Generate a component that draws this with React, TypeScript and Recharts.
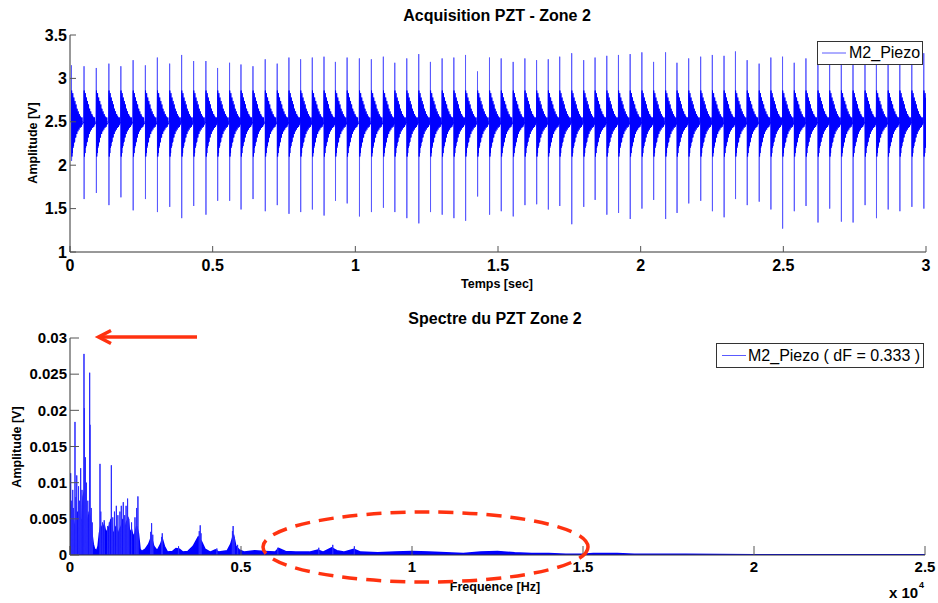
import React from 'react';
import { ComposedChart, Line, Area, XAxis, YAxis } from 'recharts';

// ---------- Top plot: acquisition (time signal) ----------
const spikeTimes = [
  0.005, 0.049, 0.092, 0.136, 0.178, 0.221, 0.264, 0.306, 0.349, 0.391, 0.433, 0.476, 0.517, 0.559, 0.599, 0.641, 0.684,
  0.726, 0.767, 0.808, 0.849, 0.890, 0.930, 0.971, 1.014, 1.056, 1.098, 1.138, 1.180, 1.222, 1.263, 1.304, 1.345, 1.386,
  1.428, 1.470, 1.511, 1.553, 1.594, 1.635, 1.676, 1.716, 1.758, 1.800, 1.840, 1.881, 1.922, 1.963, 2.004, 2.045, 2.087,
  2.127, 2.168, 2.210, 2.251, 2.292, 2.332, 2.373, 2.415, 2.456, 2.497, 2.538, 2.579, 2.621, 2.662, 2.703, 2.744, 2.786,
  2.826, 2.867, 2.908, 2.950, 2.992,
];
const spikeHighs = [
  3.15, 3.14, 3.12, 3.17, 3.14, 3.21, 3.15, 3.24, 3.17, 3.27, 3.20, 3.20, 3.12, 3.18, 3.16, 3.14, 3.22,
  3.17, 3.24, 3.22, 3.24, 3.25, 3.19, 3.24, 3.23, 3.22, 3.25, 3.18, 3.23, 3.28, 3.19, 3.23, 3.24, 3.27,
  3.08, 3.24, 3.23, 3.19, 3.23, 3.21, 3.22, 3.25, 3.29, 3.21, 3.24, 3.26, 3.27, 3.28, 3.30, 3.19, 3.30,
  3.18, 3.23, 3.25, 3.27, 3.26, 3.31, 3.21, 3.17, 3.24, 3.25, 3.18, 3.23, 3.25, 3.27, 3.21, 3.25, 3.22,
  3.19, 3.24, 3.29, 3.23, 3.29,
];
const spikeLows = [
  2.05, 1.61, 1.68, 1.54, 1.63, 1.48, 1.61, 1.46, 1.52, 1.39, 1.53, 1.43, 1.59, 1.59, 1.49, 1.61, 1.47,
  1.54, 1.44, 1.46, 1.49, 1.42, 1.59, 1.56, 1.41, 1.46, 1.51, 1.46, 1.39, 1.33, 1.46, 1.43, 1.39, 1.36,
  1.64, 1.43, 1.47, 1.41, 1.54, 1.55, 1.49, 1.53, 1.32, 1.52, 1.60, 1.43, 1.45, 1.38, 1.50, 1.60, 1.38,
  1.45, 1.56, 1.59, 1.47, 1.40, 1.61, 1.54, 1.58, 1.49, 1.27, 1.47, 1.53, 1.34, 1.50, 1.35, 1.34, 1.54,
  1.39, 1.49, 1.47, 1.52, 1.50,
];
const burstTemplate = [
  0.36, -0.40, 0.30, -0.36, 0.33, -0.30, 0.27, -0.28, 0.28, -0.24, 0.22, -0.23, 0.24, -0.18, 0.19, -0.18, 0.20, -0.14,
  0.15, -0.14, 0.15, -0.10, 0.11, -0.11, 0.12, -0.08, 0.08, -0.09, 0.09, -0.06, 0.07, -0.07, 0.06, -0.05, 0.05, -0.06,
  0.04, -0.04, 0.05, -0.03,
];
const burstStep = 0.00095;
const restLevel = 2.5;
const timeTicks = [0, 0.5, 1, 1.5, 2, 2.5, 3];
const voltTicks = [1, 1.5, 2, 2.5, 3, 3.5];

// ---------- Bottom plot: spectrum ----------
const envFreq = [
  0, 30, 60, 100, 130, 170, 220, 260, 300, 350, 380, 430, 470, 520, 560, 600, 640, 680, 720, 780, 820, 860, 900, 950,
  1000, 1050, 1100, 1150, 1200, 1250, 1300, 1350, 1400, 1450, 1500, 1550, 1600, 1650, 1700, 1750, 1800, 1850, 1900,
  1950, 2000, 2050, 2100, 2200, 2300, 2380, 2450, 2550, 2650, 2700, 2760, 2850, 3000, 3100, 3200, 3300, 3450, 3600,
  3750, 3850, 3950, 4100, 4250, 4350, 4600, 4700, 4780, 4850, 4950, 5100, 5400, 5700, 6000, 6100, 6300, 6600, 7000,
  7250, 7400, 7650, 7800, 8000, 8300, 8500, 9000, 9500, 10000, 10500, 11000, 11500, 12000, 12500, 13000, 13500, 14000,
  14500, 15000, 15300, 15600, 16000, 16500, 18000, 20000, 25000,
];
const envAmp = [
  0.002, 0.007, 0.0045, 0.005, 0.004, 0.0035, 0.006, 0.004, 0.005, 0.0045, 0.008, 0.009, 0.006, 0.004, 0.006, 0.005,
  0.003, 0.0015, 0.0008, 0.0006, 0.0012, 0.003, 0.004, 0.0035, 0.0042, 0.003, 0.0035, 0.004, 0.005, 0.003, 0.0032,
  0.004, 0.0028, 0.0035, 0.004, 0.005, 0.0035, 0.0045, 0.005, 0.003, 0.0035, 0.0025, 0.003, 0.004, 0.003, 0.0008,
  0.0005, 0.0008, 0.0015, 0.0025, 0.0012, 0.0006, 0.0015, 0.0022, 0.0012, 0.0004, 0.0005, 0.0009, 0.0008, 0.0004,
  0.0005, 0.0012, 0.0025, 0.0018, 0.0008, 0.0004, 0.0007, 0.0004, 0.0006, 0.0015, 0.0028, 0.0012, 0.0007, 0.0004,
  0.0006, 0.0005, 0.0004, 0.0009, 0.0005, 0.0004, 0.0004, 0.0007, 0.0004, 0.001, 0.0006, 0.0004, 0.0008, 0.0004,
  0.0003, 0.0004, 0.0005, 0.0004, 0.0003, 0.0002, 0.0004, 0.0005, 0.0003, 0.0002, 0.0002, 0.0001, 0.0001, 0.0002,
  0.0002, 0.0002, 0.0001, 0.0001, 0.00005, 0.00005,
];
const peakFreq = [
  20, 50, 80, 100, 146, 170, 197, 250, 280, 312, 350, 409, 420, 450, 480, 520, 575, 585, 620, 650, 877, 900, 950, 1000,
  1100, 1150, 1209, 1250, 1300, 1355, 1400, 1460, 1500, 1558, 1600, 1640, 1684, 1720, 1800, 1900, 1950, 1986, 2360,
  2386, 2420, 2680, 2698, 3174, 3780, 3808, 3830, 4294, 4750, 4770, 4800, 4900, 6076, 7274, 7683, 8315,
];
const peakAmp = [
  0.0113, 0.0075, 0.009, 0.0065, 0.0184, 0.008, 0.011, 0.0095, 0.0075, 0.012, 0.009, 0.0278, 0.0203, 0.0135, 0.01,
  0.0075, 0.0252, 0.018, 0.0065, 0.0045, 0.0126, 0.006, 0.0045, 0.0048, 0.004, 0.0045, 0.0124, 0.0052, 0.006, 0.0068,
  0.0055, 0.006, 0.0068, 0.0073, 0.0055, 0.0068, 0.0078, 0.005, 0.0045, 0.0052, 0.0065, 0.0081, 0.0032, 0.0044,
  0.0028, 0.0025, 0.003, 0.0012, 0.0033, 0.0041, 0.003, 0.0009, 0.0033, 0.004, 0.0025, 0.0014, 0.001, 0.001, 0.0014,
  0.0012,
];
const freqTicks = [0, 5000, 10000, 15000, 20000, 25000];
const specTicks = [0, 0.005, 0.01, 0.015, 0.02, 0.025, 0.03];

// impacts (thin spikes) and ringing drawn as two layers of the same signal
const impactData = spikeTimes.flatMap((t, i) => [
  { t, v: restLevel },
  { t: t + 0.0002, v: spikeHighs[i] },
  { t: t + 0.0005, v: spikeLows[i] },
  { t: t + 0.0008, v: restLevel },
]);
const ringData = spikeTimes.flatMap((t) => [
  { t, v: restLevel },
  ...burstTemplate.map((d, k) => ({ t: t + 0.0008 + k * burstStep, v: restLevel + d })),
]);
const envData = envFreq.map((f, i) => ({ f, a: envAmp[i] }));
const peakData = peakFreq.flatMap((f, i) => [
  { f: f - 6, a: 0 },
  { f, a: peakAmp[i] },
  { f: f + 6, a: 0 },
]);

const BLUE = '#0000ff';
const LIGHT_BLUE = '#5a5aff';
const AXIS = '#333333';
const FONT = '"Liberation Sans", Arial, Helvetica, sans-serif';
const RED = '#ff3210';

const tickStyleTop = { fontSize: 16, fontWeight: 700, fill: '#000', fontFamily: FONT };
const tickStyleBot = { fontSize: 15, fontWeight: 700, fill: '#000', fontFamily: FONT };

export default function App() {
  return (
    <div style={{ position: 'absolute', left: 0, top: 0, width: 938, height: 603, background: '#fff', overflow: 'hidden' }}>
      {/* Top chart */}
      <div style={{ position: 'absolute', left: 0, top: 0 }}>
        <ComposedChart width={938} height={300} margin={{ top: 35, right: 12, bottom: 0, left: 0 }}>
          <XAxis
            dataKey="t"
            type="number"
            domain={[0, 3]}
            ticks={timeTicks}
            allowDataOverflow
            height={48}
            stroke={AXIS}
            tickSize={-6}
            tickMargin={14}
            tick={tickStyleTop}
            tickLine={{ stroke: '#555' }}
          />
          <XAxis
            xAxisId="top"
            orientation="top"
            type="number"
            domain={[0, 3]}
            ticks={timeTicks}
            allowDataOverflow
            height={0}
            stroke={AXIS}
            tickSize={-6}
            tick={false}
            tickLine={{ stroke: '#555' }}
          />
          <YAxis
            type="number"
            domain={[1, 3.5]}
            ticks={voltTicks}
            allowDataOverflow
            width={70}
            stroke={AXIS}
            tickSize={-6}
            tickMargin={9}
            tick={tickStyleTop}
            tickLine={{ stroke: '#555' }}
          />
          <YAxis
            yAxisId="right"
            orientation="right"
            type="number"
            domain={[1, 3.5]}
            ticks={voltTicks}
            allowDataOverflow
            width={0}
            stroke={AXIS}
            tickSize={-6}
            tick={false}
            tickLine={{ stroke: '#555' }}
          />
          <Line
            data={impactData}
            dataKey="v"
            type="linear"
            stroke={LIGHT_BLUE}
            strokeWidth={1}
            dot={false}
            activeDot={false}
            isAnimationActive={false}
          />
          <Line
            data={ringData}
            dataKey="v"
            type="linear"
            stroke={BLUE}
            strokeWidth={1}
            dot={false}
            activeDot={false}
            isAnimationActive={false}
          />
        </ComposedChart>
      </div>

      {/* Bottom chart */}
      <div style={{ position: 'absolute', left: 0, top: 300 }}>
        <ComposedChart width={938} height={303} margin={{ top: 38, right: 13, bottom: 0, left: 0 }}>
          <XAxis
            dataKey="f"
            type="number"
            domain={[0, 25000]}
            ticks={freqTicks}
            allowDataOverflow
            height={48}
            stroke={AXIS}
            tickSize={-9}
            tickMargin={15}
            tick={tickStyleBot}
            tickLine={{ stroke: '#555' }}
            tickFormatter={(v: number) => String(v / 10000)}
          />
          <YAxis
            type="number"
            domain={[0, 0.03]}
            ticks={specTicks}
            allowDataOverflow
            width={70}
            stroke={AXIS}
            tickSize={-9}
            tickMargin={12}
            tick={tickStyleBot}
            tickLine={{ stroke: '#555' }}
          />
          <Area
            data={envData}
            dataKey="a"
            type="linear"
            stroke={BLUE}
            strokeWidth={1.5}
            fill={BLUE}
            fillOpacity={1}
            dot={false}
            activeDot={false}
            isAnimationActive={false}
          />
          <Line
            data={peakData}
            dataKey="a"
            type="linear"
            stroke={'#2a2aff'}
            strokeWidth={1}
            dot={false}
            activeDot={false}
            isAnimationActive={false}
          />
        </ComposedChart>
      </div>

      {/* Legends */}
      <div
        style={{
          position: 'absolute', left: 817, top: 41, width: 104, height: 22, border: '1px solid #333', background: '#fff',
          fontFamily: FONT, fontSize: 16, color: '#000', display: 'flex', alignItems: 'center', boxSizing: 'content-box',
        }}
      >
        <svg width={31} height={22} style={{ flex: 'none' }}>
          <line x1={4} y1={11} x2={28} y2={11} stroke={LIGHT_BLUE} strokeWidth={1} />
        </svg>
        <span>M2_Piezo</span>
      </div>
      <div
        style={{
          position: 'absolute', left: 716, top: 343, width: 206, height: 23, border: '1px solid #333', background: '#fff',
          fontFamily: FONT, fontSize: 16, color: '#000', display: 'flex', alignItems: 'center', whiteSpace: 'nowrap',
          boxSizing: 'content-box',
        }}
      >
        <svg width={31} height={23} style={{ flex: 'none' }}>
          <line x1={5} y1={11.5} x2={29} y2={11.5} stroke={LIGHT_BLUE} strokeWidth={1} />
        </svg>
        <span>M2_Piezo ( dF = 0.333 )</span>
      </div>

      {/* Titles, axis labels, annotations */}
      <svg width={938} height={603} style={{ position: 'absolute', left: 0, top: 0, pointerEvents: 'none' }}>
        <g fontFamily={FONT} fontWeight={700} fill="#000">
          <text x={497} y={21} fontSize={16} textAnchor="middle">Acquisition PZT - Zone 2</text>
          <text x={495} y={324} fontSize={16} textAnchor="middle">Spectre du PZT Zone 2</text>
          <text x={497} y={288} fontSize={12.5} textAnchor="middle">Temps [sec]</text>
          <text x={495} y={591} fontSize={12.5} textAnchor="middle">Frequence [Hz]</text>
          <text x={0} y={0} fontSize={12.5} textAnchor="middle" transform="translate(37,143) rotate(-90)">Amplitude [V]</text>
          <text x={0} y={0} fontSize={12.5} textAnchor="middle" transform="translate(21,447) rotate(-90)">Amplitude [V]</text>
          <text x={889} y={598} fontSize={15}>x 10</text>
          <text x={919} y={588} fontSize={9}>4</text>
        </g>
        <g stroke={RED} strokeWidth={3.5} fill="none" strokeLinecap="butt">
          <line x1={197} y1={337} x2={99} y2={337} />
          <polyline points="111,330.5 98.5,337 111,343.5" strokeLinejoin="miter" />
          <ellipse cx={425.5} cy={547} rx={162.5} ry={35} strokeDasharray="15 9" />
        </g>
      </svg>
    </div>
  );
}
